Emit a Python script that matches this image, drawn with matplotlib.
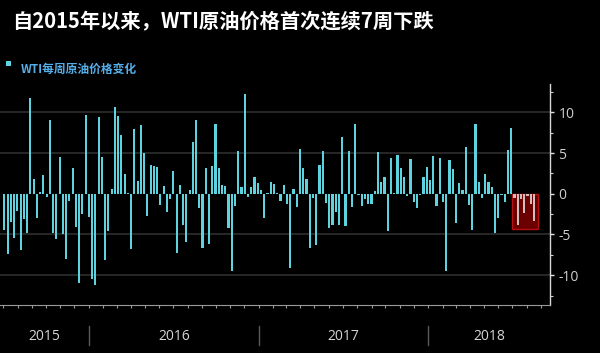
import matplotlib
matplotlib.use("Agg")
import matplotlib.pyplot as plt
import matplotlib.dates as mdates
from matplotlib.patches import Rectangle
from matplotlib.lines import Line2D
from matplotlib.transforms import blended_transform_factory
import pandas as pd

plt.rcParams['font.family'] = ['Noto Sans CJK SC', 'DejaVu Sans']
plt.rcParams['axes.unicode_minus'] = False

title = "自2015年以来，WTI原油价格首次连续7周下跌"
legend_label = "WTI每周原油价格变化"
first_week = "2015-07-03"
weekly_change = [
    -4.5, -7.4, -3.5, -5.4, -2.1, -6.9, -3.1, -4.8, 11.8, 1.8,
    -3.0, 0.2, 2.3, -0.4, 9.0, -4.8, -5.6, 4.5, -5.0, -8.0,
    -0.9, 3.2, -4.1, -10.9, -2.5, 9.7, -2.8, -10.5, -11.2, 9.4,
    4.5, -8.1, -4.6, 0.6, 10.6, 9.5, 7.2, 2.4, 0.05, -6.8,
    8.0, 1.6, 8.4, 5.0, -2.7, 3.5, 3.4, 3.3, -1.4, 0.9,
    -2.2, -0.6, 2.8, -7.3, 1.1, -3.8, -5.9, 0.4, 6.4, 9.0,
    -1.8, -6.7, 3.2, -6.2, 3.4, 8.5, 3.2, 1.1, 0.9, -4.2,
    -9.5, -1.5, 5.3, 0.8, 12.3, -0.4, 0.8, 2.1, 1.3, 0.5,
    -3.0, 0.05, 1.4, 1.2, 0.05, -0.9, 1.1, -1.2, -9.1, 0.6,
    -1.6, 5.5, 3.2, 1.8, -6.7, -0.5, -6.3, 3.5, 5.2, -1.1,
    -4.2, -3.8, -2.3, -3.8, 7.0, -3.9, 5.2, -1.6, 8.6, -0.2,
    -1.5, -0.6, -1.3, -1.2, 0.3, 5.1, 1.5, 2.0, -4.6, 4.4,
    0.05, 4.7, 3.2, 2.0, -0.3, 4.3, -1.0, -1.7, -0.1, 2.0,
    3.3, 1.7, 4.6, -1.5, 4.4, -1.0, -9.5, 4.2, 3.0, -3.6,
    1.3, 0.5, 5.7, -1.4, -4.4, 8.6, 1.5, -0.5, 2.4, 1.4,
    0.8, -4.8, -3.0, -0.1, -1.0, 5.4, 8.1,
    -0.5, -3.8, -0.7, -2.4, -0.3, -1.3, -3.3,
]
highlight_weeks = 7
y_ticks = [-10, -5, 0, 5, 10]
y_minor = [-12.5, -7.5, -2.5, 2.5, 7.5, 12.5]
grid_levels = [-10, -5, 5, 10]
years = [2015, 2016, 2017, 2018]

dates = pd.date_range(first_week, periods=len(weekly_change), freq="W-FRI")
week = pd.Timedelta(days=7)

fig = plt.figure(figsize=(6, 3.53), dpi=100, facecolor="black")
ax = fig.add_axes([0.0, 0.1368, 0.9167, 0.625])
ax.set_facecolor("black")

for g in grid_levels:
    ax.axhline(g, color="#2e2e2e", lw=1.2, zorder=0)

n_norm = len(weekly_change) - highlight_weeks
bw = pd.Timedelta(days=4.5)
ax.bar(dates[:n_norm], weekly_change[:n_norm], width=bw, color="#5dd3e0",
       zorder=3)

box_x0 = dates[n_norm] - 0.9 * week
box_x1 = dates[-1] + 1.1 * week
box_bottom = min(weekly_change[n_norm:]) - 0.5
ax.add_patch(Rectangle((mdates.date2num(box_x0), box_bottom),
                       mdates.date2num(box_x1) - mdates.date2num(box_x0),
                       -box_bottom, facecolor="#6a0000", edgecolor="#b81010",
                       lw=1.0, zorder=2))
ax.bar(dates[n_norm:], weekly_change[n_norm:], width=bw, color="#d2bcbc",
       zorder=3)

x_left = dates[0] - pd.Timedelta(days=9.3)
x_right = dates[-1] + pd.Timedelta(days=34.5)
ax.set_xlim(x_left, x_right)
ax.set_ylim(-13.62, 13.46)

for s in ["left", "top"]:
    ax.spines[s].set_visible(False)
ax.spines["bottom"].set_color("#9a9a9a")
ax.spines["right"].set_color("#d8d8d8")
ax.spines["right"].set_linewidth(1.0)

ax.yaxis.tick_right()
ax.set_yticks(y_ticks)
ax.set_yticks(y_minor, minor=True)
ax.set_yticklabels([str(v) for v in y_ticks])
ax.tick_params(axis="y", which="major", length=3, width=1, colors="#e0e0e0",
               labelsize=10, pad=3)
ax.tick_params(axis="y", which="minor", length=2, width=0.8, colors="#cfcfcf")
for lbl in ax.get_yticklabels():
    lbl.set_color("#d0d0d0")
    lbl.set_family(["Open Sans", "DejaVu Sans"])

ax.xaxis.set_major_locator(mdates.MonthLocator())
ax.tick_params(axis="x", which="major", length=2.5, width=0.8, colors="#9a9a9a",
               labelbottom=False)

trans = blended_transform_factory(ax.transData, fig.transFigure)
xl = mdates.date2num(x_left)
xr = mdates.date2num(x_right)
for y in years:
    a = max(xl, mdates.date2num(pd.Timestamp(f"{y}-01-01")))
    b = min(xr, mdates.date2num(pd.Timestamp(f"{y + 1}-01-01")))
    ax.text((a + b) / 2, 0.048, str(y), transform=trans, ha="center",
            va="center", color="#d6d6d6", fontsize=10,
            family=["Open Sans", "DejaVu Sans"])
    if y != years[0]:
        fig.add_artist(Line2D([a, a], [0.0765, 0.0227], transform=trans,
                              color="#5a5a5a", lw=1))

fig.text(0.02, 0.938, title, color="white", fontsize=14.6, fontweight="bold",
         ha="left", va="center")
fig.add_artist(Rectangle((6 / 600, 1 - 66 / 353), 5 / 600, 5 / 353,
                         transform=fig.transFigure, facecolor="#5fd3e0",
                         edgecolor="none"))
fig.text(21 / 600, 1 - 69 / 353, legend_label, color="#55aeea", fontsize=8.5,
         fontweight="bold", ha="left", va="center")

fig.savefig("out.png", dpi=100, facecolor="black")
